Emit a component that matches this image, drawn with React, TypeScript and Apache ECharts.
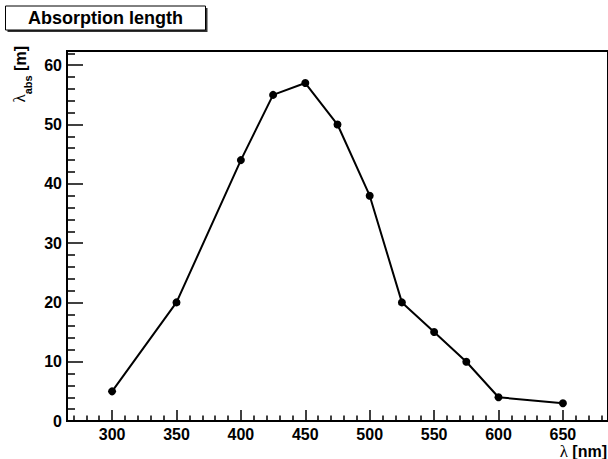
import React, { useEffect, useRef } from "react";
import * as echarts from "echarts";

const wavelengths = [300, 350, 400, 425, 450, 475, 500, 525, 550, 575, 600, 650];
const absLengths = [5, 20, 44, 55, 57, 50, 38, 20, 15, 10, 4, 3];

const xMajorTicks = [300, 350, 400, 450, 500, 550, 600, 650];
const xMinorTicks = [270, 280, 290, 310, 320, 330, 340, 360, 370, 380, 390, 410, 420, 430, 440, 460, 470, 480, 490, 510, 520, 530, 540, 560, 570, 580, 590, 610, 620, 630, 640, 660, 670, 680];
const yMajorTicks = [0, 10, 20, 30, 40, 50, 60];
const yMinorTicks = [2, 4, 6, 8, 12, 14, 16, 18, 22, 24, 26, 28, 32, 34, 36, 38, 42, 44, 46, 48, 52, 54, 56, 58, 62];

const X_MIN = 265;
const X_MAX = 685;
const Y_MIN = 0;
const Y_MAX = 62.4;

const FONT = "'Liberation Sans', Arial, Helvetica, sans-serif";

export default function App() {
  const ref = useRef<HTMLDivElement>(null);

  useEffect(() => {
    if (!ref.current) return;
    const chart = echarts.init(ref.current, null, { renderer: "svg" });
    const labelStyle = {
      color: "#000",
      fontFamily: FONT,
      fontWeight: "bold" as const,
      fontSize: 16,
      lineHeight: 16,
    };
    chart.setOption({
      animation: false,
      backgroundColor: "#fff",
      grid: {
        left: 67,
        top: 51,
        right: 0,
        bottom: 38,
        show: true,
        borderColor: "#000",
        borderWidth: 2,
        backgroundColor: "transparent",
        containLabel: false,
      },
      title: {
        text: "Absorption length",
        left: 105.5,
        top: 18,
        textAlign: "center",
        textVerticalAlign: "middle",
        padding: 0,
        textStyle: {
          color: "#000",
          fontFamily: FONT,
          fontWeight: "bold",
          fontSize: 18,
        },
        z: 10,
      },
      graphic: [
        {
          type: "rect",
          shape: { x: 7.5, y: 8, width: 200, height: 24 },
          style: { fill: "#333", stroke: "none" },
          z: 1,
        },
        {
          type: "rect",
          shape: { x: 5.5, y: 6, width: 200, height: 24 },
          style: { fill: "#fff", stroke: "#000", lineWidth: 1 },
          z: 2,
        },
        {
          type: "text",
          x: 607,
          y: 451,
          style: {
            text: "{l|λ}{n| [nm]}",
            align: "right",
            verticalAlign: "middle",
            rich: {
              l: { fontFamily: "'Liberation Serif', serif", fontSize: 17, fill: "#000", lineHeight: 14 },
              n: { fontFamily: FONT, fontWeight: "bold", fontSize: 16, fill: "#000", lineHeight: 14 },
            },
          },
        },
        {
          type: "text",
          x: 19,
          y: 46,
          rotation: Math.PI / 2,
          style: {
            text: "{l|λ}{s|abs}{n| [m]}",
            align: "right",
            verticalAlign: "middle",
            rich: {
              l: { fontFamily: "'Liberation Serif', serif", fontSize: 17, fill: "#000", lineHeight: 18, verticalAlign: "bottom" },
              s: { fontFamily: FONT, fontWeight: "bold", fontSize: 11, fill: "#000", lineHeight: 18, verticalAlign: "bottom", padding: [0, 0, -5, 0] },
              n: { fontFamily: FONT, fontWeight: "bold", fontSize: 16, fill: "#000", lineHeight: 18, verticalAlign: "bottom" },
            },
          },
        },
      ],
      xAxis: [
        {
          type: "value",
          min: X_MIN,
          max: X_MAX,
          position: "bottom",
          axisLine: { show: true, onZero: false, lineStyle: { color: "#000", width: 2 } },
          axisTick: { show: true, inside: true, length: 11, customValues: xMajorTicks, lineStyle: { color: "#000", width: 1.5 } },
          axisLabel: { show: true, margin: 5, customValues: xMajorTicks, ...labelStyle },
          splitLine: { show: false },
        },
        {
          type: "value",
          min: X_MIN,
          max: X_MAX,
          position: "bottom",
          axisLine: { show: false },
          axisTick: { show: true, inside: true, length: 5.5, customValues: xMinorTicks, lineStyle: { color: "#000", width: 1.5 } },
          axisLabel: { show: false },
          splitLine: { show: false },
        },
      ],
      yAxis: [
        {
          type: "value",
          min: Y_MIN,
          max: Y_MAX,
          position: "left",
          axisLine: { show: true, onZero: false, lineStyle: { color: "#000", width: 2 } },
          axisTick: { show: true, inside: true, length: 16, customValues: yMajorTicks, lineStyle: { color: "#000", width: 1.5 } },
          axisLabel: { show: true, margin: 5, customValues: yMajorTicks, ...labelStyle },
          splitLine: { show: false },
        },
        {
          type: "value",
          min: Y_MIN,
          max: Y_MAX,
          position: "left",
          axisLine: { show: false },
          axisTick: { show: true, inside: true, length: 8, customValues: yMinorTicks, lineStyle: { color: "#000", width: 1.5 } },
          axisLabel: { show: false },
          splitLine: { show: false },
        },
      ],
      series: [
        {
          type: "line",
          xAxisIndex: 0,
          yAxisIndex: 0,
          data: wavelengths.map((w, i) => [w, absLengths[i]]),
          lineStyle: { color: "#000", width: 2 },
          itemStyle: { color: "#000" },
          symbol: "circle",
          symbolSize: 8,
          showSymbol: true,
          clip: false,
        },
      ],
    });
    return () => chart.dispose();
  }, []);

  return (
    <div
      ref={ref}
      style={{ position: "absolute", left: 0, top: 0, width: 608, height: 459, background: "#fff" }}
    />
  );
}
